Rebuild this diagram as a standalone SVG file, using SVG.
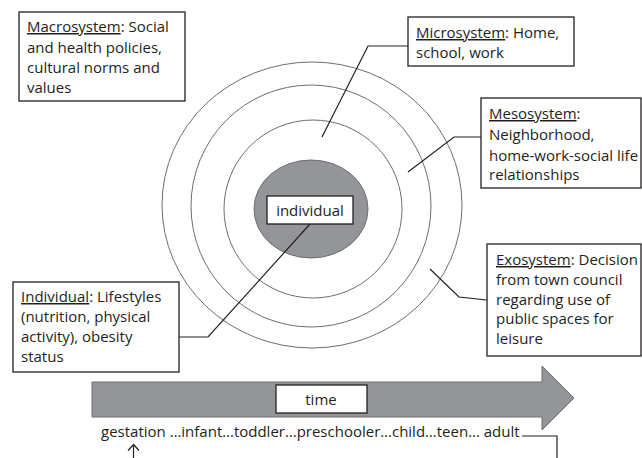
<svg xmlns="http://www.w3.org/2000/svg" width="642" height="458" viewBox="0 0 642 458">
<style>
.ring{fill:none;stroke:#6d6e71;stroke-width:1}
.box{fill:#fff;stroke:#231f20;stroke-width:1.3}
.t{font-family:"Open Sans","Noto Sans","DejaVu Sans",sans-serif;font-size:15px;fill:#231f20}
.u{text-decoration:underline}
.conn{fill:none;stroke:#231f20;stroke-width:1.2}
</style>
<rect width="642" height="458" fill="#fff"/>
<g id="rings">
<ellipse class="ring" cx="312" cy="205" rx="150" ry="143"/>
<ellipse class="ring" cx="311" cy="206" rx="120" ry="121"/>
<ellipse class="ring" cx="313" cy="209" rx="89" ry="89"/>
<ellipse cx="311" cy="209" rx="57" ry="49" fill="#939598" stroke="#6d6e71" stroke-width="1"/>
</g>
<g id="time-arrow">
<path d="M92,382 H542 V366 L574,398 L542,430 V417 H92 Z" fill="#939598" stroke="#6d6e71" stroke-width="1"/>
</g>
<g id="connectors">
<polyline class="conn" points="408,46 368,46 322,137"/>
<polyline class="conn" points="481,137 454,137 408,172"/>
<polyline class="conn" points="487,300 459,297 430,269"/>
<polyline class="conn" points="179,337 208,337 310,224"/>
<polyline class="conn" points="522,436 557,436 557,458"/>
<line class="conn" x1="133.5" y1="458" x2="133.5" y2="446" stroke-width="2"/>
<polyline class="conn" points="128,450.5 133.5,444.5 139,450.5" stroke-width="2.2"/>
</g>
<g id="individual">
<rect class="box" x="267" y="196" width="86" height="28"/>
<text class="t" x="310" y="216" text-anchor="middle">individual</text>
</g>
<g id="macrosystem">
<rect class="box" x="19" y="12" width="166" height="89"/>
<text class="t" x="27" y="32"><tspan class="u">Macrosystem</tspan>: Social</text>
<text class="t" x="27" y="53">and health policies,</text>
<text class="t" x="27" y="73">cultural norms and</text>
<text class="t" x="27" y="93">values</text>
</g>
<g id="microsystem">
<rect class="box" x="408" y="17" width="166" height="49"/>
<text class="t" x="416" y="38"><tspan class="u">Microsystem</tspan>: Home,</text>
<text class="t" x="416" y="58">school, work</text>
</g>
<g id="mesosystem">
<rect class="box" x="481" y="98" width="160" height="90"/>
<text class="t" x="489" y="119"><tspan class="u">Mesosystem</tspan>:</text>
<text class="t" x="489" y="140">Neighborhood,</text>
<text class="t" x="489" y="161">home-work-social life</text>
<text class="t" x="489" y="180">relationships</text>
</g>
<g id="exosystem">
<rect class="box" x="487" y="244" width="154" height="112"/>
<text class="t" x="496" y="265"><tspan class="u">Exosystem</tspan>: Decision</text>
<text class="t" x="496" y="285">from town council</text>
<text class="t" x="496" y="305">regarding use of</text>
<text class="t" x="496" y="324">public spaces for</text>
<text class="t" x="496" y="344">leisure</text>
</g>
<g id="individual-level">
<rect class="box" x="13" y="282" width="166" height="90"/>
<text class="t" x="21" y="302"><tspan class="u">Individual</tspan>: Lifestyles</text>
<text class="t" x="21" y="322">(nutrition, physical</text>
<text class="t" x="21" y="342">activity), obesity</text>
<text class="t" x="21" y="362">status</text>
</g>
<g id="time">
<rect class="box" x="276" y="385" width="91" height="28"/>
<text class="t" x="321" y="405" text-anchor="middle">time</text>
</g>
<g id="stages">
<text class="t" x="101" y="437">gestation …infant…toddler…preschooler…child…teen… adult</text>
</g>
</svg>
